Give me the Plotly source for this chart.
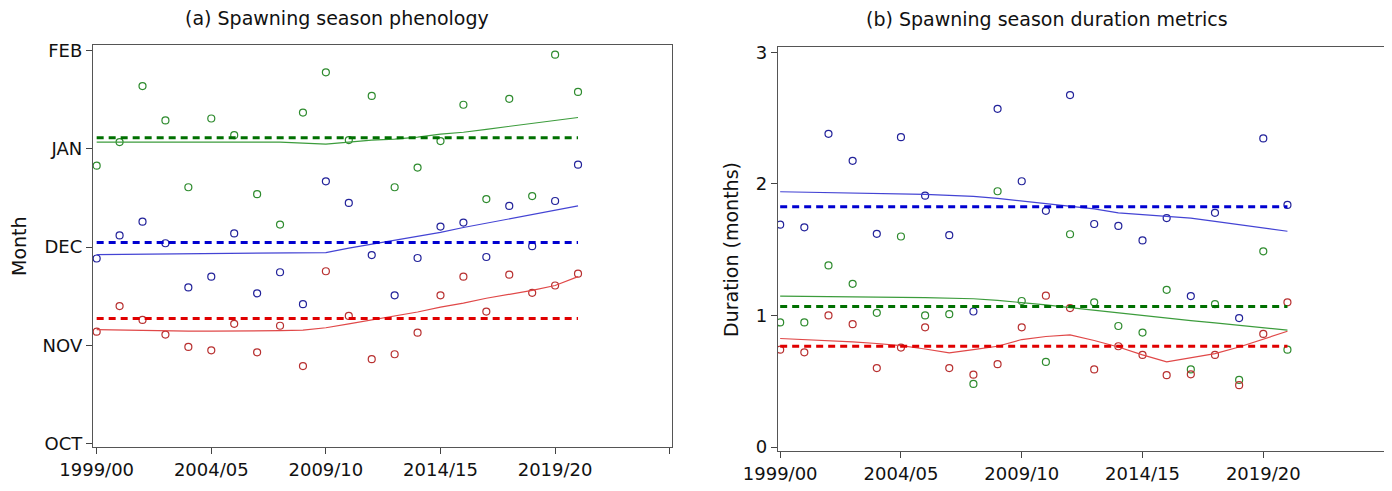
import plotly.graph_objects as go

# ---------------- data ----------------
season_idx = list(range(22))  # 1999/00 ... 2020/21
xtick_vals = [0, 5, 10, 15, 20, 25]
xtick_text = ["1999/00", "2004/05", "2009/10", "2014/15", "2019/20", ""]
month_tick_vals = [0, 1, 2, 3, 4]
month_tick_text = ["OCT", "NOV", "DEC", "JAN", "FEB"]
dur_tick_vals = [0, 1, 2, 3]

# Panel (a): phenology (months after 1 Oct)
pheno_green = [2.83, 3.07, 3.64, 3.29, 2.61, 3.31, 3.14, 2.54, 2.23, 3.37, 3.78,
               3.09, 3.54, 2.61, 2.81, 3.08, 3.45, 2.49, 3.51, 2.52, 3.96, 3.58]
pheno_blue = [1.885, 2.12, 2.26, 2.04, 1.59, 1.70, 2.14, 1.53, 1.745, 1.42, 2.67,
              2.45, 1.92, 1.51, 1.89, 2.21, 2.25, 1.90, 2.42, 2.01, 2.47, 2.84]
pheno_red = [1.14, 1.40, 1.26, 1.11, 0.985, 0.95, 1.22, 0.93, 1.20, 0.79, 1.755,
             1.30, 0.86, 0.91, 1.13, 1.51, 1.70, 1.345, 1.72, 1.535, 1.61, 1.73]
pheno_mean = {"green": 3.114, "blue": 2.048, "red": 1.273}
pheno_trend_green = [3.07, 3.07, 3.07, 3.07, 3.07, 3.07, 3.07, 3.07, 3.07, 3.06, 3.05,
                     3.07, 3.09, 3.10, 3.12, 3.15, 3.17, 3.20, 3.23, 3.26, 3.29, 3.32]
pheno_trend_blue = [1.925, 1.927, 1.929, 1.93, 1.932, 1.934, 1.936, 1.938, 1.94, 1.942, 1.945,
                    1.99, 2.03, 2.07, 2.11, 2.15, 2.20, 2.245, 2.29, 2.33, 2.375, 2.42]
pheno_trend_red = [1.16, 1.155, 1.15, 1.15, 1.145, 1.145, 1.145, 1.145, 1.15, 1.155, 1.18,
                   1.22, 1.26, 1.30, 1.34, 1.39, 1.43, 1.48, 1.52, 1.56, 1.61, 1.70]

# Panel (b): duration (months)
dur_blue = [1.69, 1.67, 2.38, 2.175, 1.62, 2.355, 1.91, 1.61, 1.03, 2.57, 2.02,
            1.795, 2.675, 1.695, 1.68, 1.57, 1.74, 1.147, 1.78, 0.98, 2.345, 1.84]
dur_green = [0.947, 0.947, 1.38, 1.24, 1.02, 1.60, 1.00, 1.01, 0.48, 1.944, 1.11,
             0.647, 1.617, 1.10, 0.92, 0.87, 1.195, 0.59, 1.086, 0.51, 1.487, 0.74]
dur_red = [0.74, 0.72, 1.00, 0.934, 0.60, 0.756, 0.91, 0.60, 0.55, 0.63, 0.91,
           1.15, 1.056, 0.59, 0.766, 0.70, 0.546, 0.553, 0.70, 0.47, 0.86, 1.10]
dur_mean = {"blue": 1.827, "green": 1.068, "red": 0.766}
dur_trend_blue = [1.94, 1.937, 1.935, 1.93, 1.928, 1.925, 1.92, 1.912, 1.905, 1.89, 1.87,
                  1.85, 1.83, 1.81, 1.78, 1.765, 1.755, 1.74, 1.715, 1.69, 1.665, 1.64]
dur_trend_green = [1.147, 1.146, 1.145, 1.143, 1.14, 1.138, 1.135, 1.13, 1.127, 1.115, 1.10,
                   1.08, 1.06, 1.04, 1.015, 0.995, 0.977, 0.96, 0.944, 0.925, 0.905, 0.888]
dur_trend_red = [0.825, 0.817, 0.81, 0.80, 0.787, 0.77, 0.745, 0.716, 0.74, 0.766, 0.817,
                 0.84, 0.853, 0.81, 0.76, 0.70, 0.647, 0.68, 0.71, 0.76, 0.82, 0.88]

# ---------------- styles ----------------
MK = {"green": "#2e8b2e", "blue": "#22229a", "red": "#b83030"}
DASH = {"green": "#007000", "blue": "#0000d0", "red": "#e00000"}
TREND = {"green": "#3c9c3c", "blue": "#4444d4", "red": "#e04848"}
FONT = "DejaVu Sans"

fig = go.Figure()


def add_panel(xa, ya, pts, trends, means):
    for c, vals in pts.items():
        fig.add_trace(go.Scatter(x=season_idx, y=vals, mode="markers", xaxis=xa, yaxis=ya,
                                 marker=dict(symbol="circle-open", size=7, color=MK[c],
                                             line=dict(width=1.2, color=MK[c])),
                                 showlegend=False, hoverinfo="skip"))
    for c, vals in trends.items():
        fig.add_trace(go.Scatter(x=season_idx, y=vals, mode="lines", xaxis=xa, yaxis=ya,
                                 line=dict(color=TREND[c], width=1.2),
                                 showlegend=False, hoverinfo="skip"))
    for c, m in means.items():
        fig.add_trace(go.Scatter(x=[season_idx[0], season_idx[-1]], y=[m, m], mode="lines",
                                 xaxis=xa, yaxis=ya,
                                 line=dict(color=DASH[c], width=3, dash="7px,5px"),
                                 showlegend=False, hoverinfo="skip"))


add_panel("x", "y",
          {"green": pheno_green, "blue": pheno_blue, "red": pheno_red},
          {"green": pheno_trend_green, "blue": pheno_trend_blue, "red": pheno_trend_red},
          pheno_mean)
add_panel("x2", "y2",
          {"blue": dur_blue, "green": dur_green, "red": dur_red},
          {"blue": dur_trend_blue, "green": dur_trend_green, "red": dur_trend_red},
          dur_mean)

# page body has an 8px margin, so the figure is sized to fill the rest of the window
OFF = 8
W, H = 1392 - OFF, 491 - OFF


def px(x):
    return (x - OFF) / W


def py(y):
    return 1 - (y - OFF) / H


axis_common = dict(showgrid=False, zeroline=False, showline=True, mirror=True,
                   linecolor="#555555", linewidth=1.3, ticks="outside", ticklen=6,
                   tickcolor="#444444", automargin=False,
                   tickfont=dict(family=FONT, size=18, color="#111111"))

fig.update_layout(
    width=W, height=H, margin=dict(l=0, r=0, t=0, b=0, autoexpand=False),
    paper_bgcolor="white", plot_bgcolor="white",
    xaxis=dict(domain=[px(93), px(672)], range=[-0.16, 25.1], tickvals=xtick_vals,
               ticktext=xtick_text, anchor="y", **axis_common),
    yaxis=dict(domain=[py(447), py(45)], range=[-0.034, 4.058],
               tickvals=month_tick_vals, ticktext=month_tick_text, anchor="x", **axis_common),
    xaxis2=dict(domain=[px(778), px(1386)], range=[-0.09, 25.08], tickvals=xtick_vals,
                ticktext=xtick_text, anchor="y2", **axis_common),
    yaxis2=dict(domain=[py(451), py(47)], range=[-0.03, 3.04],
                tickvals=dur_tick_vals, anchor="x2", **axis_common),
    annotations=[
        dict(text="(a) Spawning season phenology", x=px(337), y=py(18), xref="paper",
             yref="paper", xanchor="center", yanchor="middle", showarrow=False,
             font=dict(family=FONT, size=19, color="#111111")),
        dict(text="(b) Spawning season duration metrics", x=px(1047), y=py(19),
             xref="paper", yref="paper", xanchor="center", yanchor="middle", showarrow=False,
             font=dict(family=FONT, size=19, color="#111111")),
        dict(text="Month", x=px(19), y=py(246), xref="paper", yref="paper",
             xanchor="center", yanchor="middle",
             showarrow=False, textangle=-90, font=dict(family=FONT, size=19, color="#111111")),
        dict(text="Duration (months)", x=px(731), y=py(250), xref="paper", yref="paper",
             xanchor="center", yanchor="middle",
             showarrow=False, textangle=-90, font=dict(family=FONT, size=19, color="#111111")),
    ],
)

fig.write_html("out.html")
